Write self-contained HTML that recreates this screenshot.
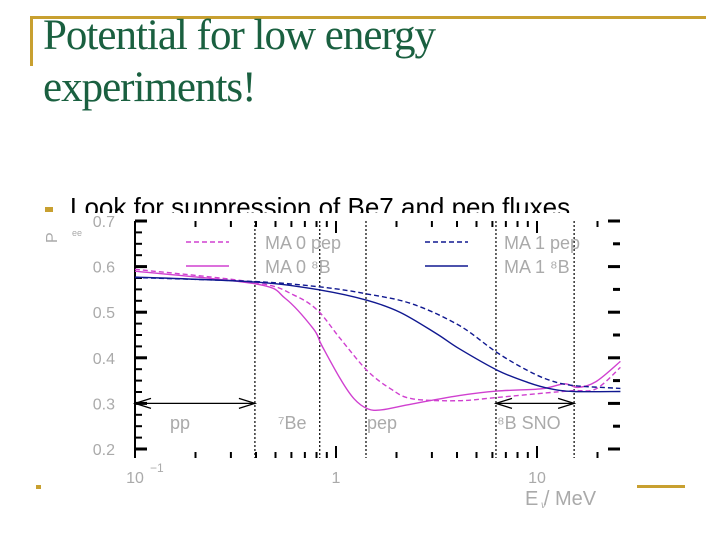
<!DOCTYPE html>
<html><head><meta charset="utf-8"><style>
body{margin:0;width:720px;height:540px;background:#fff;overflow:hidden;position:relative;font-family:"Liberation Sans",sans-serif}
.title{position:absolute;left:43px;top:10px;font-family:"Liberation Serif",serif;font-size:43px;line-height:52px;color:#1a6040;letter-spacing:-1px}
</style></head><body>
<div style="position:absolute;left:30px;top:16px;width:676px;height:3px;background:#c8a030"></div>
<div style="position:absolute;left:30px;top:16px;width:3px;height:50px;background:#c8a030"></div>
<div class="title">Potential for low energy<br>experiments!</div>
<div style="position:absolute;left:45px;top:207px;width:8px;height:5px;background:#c8a030"></div>
<div style="position:absolute;left:70px;top:192px;font-size:26px;color:#000">Look for suppression of Be7 and pep fluxes</div>
<div style="position:absolute;left:637px;top:485px;width:48px;height:3px;background:#c8a030"></div>
<div style="position:absolute;left:36px;top:485px;width:5px;height:4px;background:#c8a030"></div>
<svg id="chart" width="720" height="300" style="position:absolute;left:0;top:213px" viewBox="0 213 720 300">
<rect x="45" y="213" width="590" height="297" fill="#fff"/>
</svg>
<script>
const yTicks=[0.2,0.3,0.4,0.5,0.6,0.7];
const yTickLabels=["0.2","0.3","0.4","0.5","0.6","0.7"];
const xMajor=[0.1,1,10];
const xMajorLabels=["10","1","10"];
const regionLines=[0.395,0.83,1.41,6.25,15.3];
const e_m0b=[0.1,0.4,0.56,0.77,0.85,1.05,1.23,1.44,1.69,2.4,4.1,6.3,10.5,13.7,16,19.7,26];
const v_m0b=[0.59,0.562,0.53,0.464,0.427,0.354,0.31,0.288,0.286,0.299,0.317,0.327,0.332,0.343,0.335,0.348,0.392];
const e_m0p=[0.1,0.4,0.62,0.81,1.05,1.43,1.87,2.4,4.1,6.3,11.7,15.3,19.7,26];
const v_m0p=[0.594,0.565,0.537,0.504,0.442,0.372,0.332,0.31,0.306,0.313,0.324,0.328,0.332,0.379];
const e_m1b=[0.1,0.4,0.85,1.43,2.08,3.16,4.1,6.4,9.0,11.7,15.3,26];
const v_m1b=[0.577,0.566,0.548,0.526,0.5,0.453,0.42,0.372,0.346,0.332,0.326,0.326];
const e_m1p=[0.1,0.4,0.85,1.43,2.4,4.1,6.3,9.0,11.7,15.3,26];
const v_m1p=[0.576,0.567,0.555,0.54,0.518,0.471,0.412,0.372,0.35,0.339,0.333];
const X0=135,DEC=201,Y07=221,Y02=449,XR=620;
const X=e=>X0+(Math.log10(e)+1)*DEC;
const Y=v=>Y02-(v-0.2)/0.5*(Y02-Y07);
const svg=document.getElementById('chart');const NS='http://www.w3.org/2000/svg';
function mk(t,a,p){const e=document.createElementNS(NS,t);for(const k in a)e.setAttribute(k,a[k]);(p||svg).appendChild(e);return e;}
const ax=mk('line',{x1:X0,y1:Y07,x2:X0,y2:Y02+9,stroke:'#000','stroke-width':2});

for(let k=0;k<=20;k++){const v=0.2+k*0.025;const maj=k%4==0;
 mk('line',{x1:X0,y1:Y(v),x2:X0+(maj?12:7),y2:Y(v),stroke:'#000','stroke-width':maj?3:2});
 if(k%2==0)mk('line',{x1:XR,y1:Y(v),x2:XR-(maj?12:7),y2:Y(v),stroke:'#000','stroke-width':3});}
yTicks.forEach((v,i)=>{const t=mk('text',{x:115,y:Y(v)+6,'text-anchor':'end','font-size':16,fill:'#aaa'});t.textContent=yTickLabels[i];
 });
for(let d=-1;d<=1;d++)for(let m=1;m<=9;m++){const e=m*Math.pow(10,d);const x=X(e);if(x>XR-2)continue;
 const maj=m==1;const h=maj?12:6;
 mk('line',{x1:x,y1:Y07,x2:x,y2:Y07+h,stroke:'#000','stroke-width':2});
 mk('line',{x1:x,y1:Y02+9,x2:x,y2:Y02+9-h,stroke:'#000','stroke-width':2});}
xMajor.forEach((e,i)=>{const t=mk('text',{x:X(e),y:483,'text-anchor':'middle','font-size':16,fill:'#aaa'});t.textContent=xMajorLabels[i];
 
 if(i==0){const s=mk('text',{x:X(e)+15,y:472,'font-size':12,fill:'#aaa'});s.textContent='−1';}});
regionLines.forEach(e=>{const l=mk('line',{x1:X(e),y1:Y07,x2:X(e),y2:Y02+9,stroke:'#000','stroke-width':1.2,'stroke-dasharray':'2,2'});
 });
function arrow(e1,e2,v){const x1=X(e1),x2=X(e2),y=Y(v);
 mk('line',{x1,y1:y,x2,y2:y,stroke:'#000','stroke-width':1.3});
 mk('polyline',{points:`${x1+16},${y-5} ${x1},${y} ${x1+16},${y+5}`,fill:'none',stroke:'#000','stroke-width':1.3});
 mk('polyline',{points:`${x2-16},${y-5} ${x2},${y} ${x2-16},${y+5}`,fill:'none',stroke:'#000','stroke-width':1.3});}
arrow(0.1,regionLines[0],0.3);arrow(regionLines[3],regionLines[4],0.3);
[['pp',170,429],['⁷Be',278,429],['pep',367,429],['⁸B SNO',497,429]].forEach(a=>{const t=mk('text',{x:a[1],y:a[2],'font-size':18,fill:'#aaa'});t.textContent=a[0];
 });
function series(es,vs,col,dash,name){const P=es.map((e,i)=>[X(e),Y(vs[i])]);
 let d='M'+P[0][0].toFixed(1)+','+P[0][1].toFixed(1);
 for(let i=0;i<P.length-1;i++){const p0=P[Math.max(0,i-1)],p1=P[i],p2=P[i+1],p3=P[Math.min(P.length-1,i+2)];
  const c1=[p1[0]+(p2[0]-p0[0])/6,p1[1]+(p2[1]-p0[1])/6],c2=[p2[0]-(p3[0]-p1[0])/6,p2[1]-(p3[1]-p1[1])/6];
  d+=`C${c1[0].toFixed(1)},${c1[1].toFixed(1)} ${c2[0].toFixed(1)},${c2[1].toFixed(1)} ${p2[0].toFixed(1)},${p2[1].toFixed(1)}`;}
 const p=mk('path',{d,fill:'none',stroke:col,'stroke-width':1.4,'stroke-dasharray':dash||'none','stroke-linejoin':'round'});
 }
series(e_m0p,v_m0p,'#d040d0','5,3','series-ma0-pep');
series(e_m0b,v_m0b,'#d040d0','','series-ma0-8b');
series(e_m1p,v_m1p,'#101890','5,3','series-ma1-pep');
series(e_m1b,v_m1b,'#101890','','series-ma1-8b');
[[186,242,'#d040d0','5,3','MA  0 pep'],[186,266,'#d040d0','','MA  0 ⁸B'],[425,242,'#101890','5,3','MA  1 pep'],[425,266,'#101890','','MA  1 ⁸B']].forEach(l=>{
 const g=mk('g',{});
 mk('line',{x1:l[0],y1:l[1],x2:l[0]+43,y2:l[1],stroke:l[2],'stroke-width':1.4,'stroke-dasharray':l[3]||'none'},g);
 const t=mk('text',{x:l[0]+79,y:l[1]+7,'font-size':18,fill:'#aaa','xml:space':'preserve'},g);t.textContent=l[4];});
const yl=mk('text',{x:57,y:243,'font-size':16,fill:'#aaa',transform:'rotate(-90 57 243)'});yl.textContent='P';

const ys=mk('text',{x:72,y:236,'font-size':9,fill:'#aaa'});ys.textContent='ee';
const xl=mk('text',{x:525,y:505,'font-size':20,fill:'#aaa','xml:space':'preserve'});xl.textContent='E   / MeV';

const xs=mk('text',{x:541,y:508,'font-size':10,fill:'#aaa','font-style':'italic'});xs.textContent='ν';
</script>
</body></html>
